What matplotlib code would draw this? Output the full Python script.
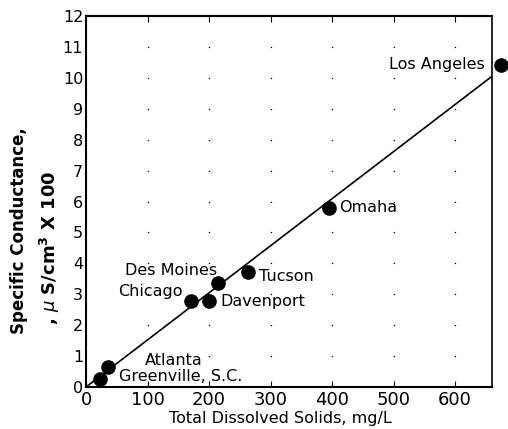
import matplotlib
matplotlib.use("Agg")
import matplotlib.pyplot as plt
import numpy as np

# Data
cities = ["Los Angeles", "Omaha", "Tucson", "Davenport", "Des Moines",
          "Chicago", "Atlanta", "Greenville, S.C."]
tds = [675, 395, 263, 200, 215, 170, 36, 23]
cond = [10.42, 5.8, 3.72, 2.78, 3.37, 2.78, 0.65, 0.27]
fit_x = [0, 660]
fit_y = [0, 10.05]
xticks = [0, 100, 200, 300, 400, 500, 600]
yticks = list(range(0, 13))

# label placement (offset in pixels, ha)
label_layout = {
    "Los Angeles": ((-16, 0), "right"),
    "Omaha": ((10, 0), "left"),
    "Tucson": ((11, -5), "left"),
    "Davenport": ((11, 0), "left"),
    "Des Moines": ((-1, 12), "right"),
    "Chicago": ((-8, 10), "right"),
    "Atlanta": ((37, 6), "left"),
    "Greenville, S.C.": ((19, 2), "left"),
}

plt.rcParams['font.family'] = ['DejaVu Sans']
fig = plt.figure(figsize=(5.08, 4.29), dpi=100)
ax = fig.add_axes([86/508, 1-387/429, (492-86)/508, (387-16)/429])
ax.set_xlim(0, 660)
ax.set_ylim(0, 12)

# dotted grid
gx, gy = np.meshgrid(xticks[1:], yticks[1:-1])
ax.scatter(gx.ravel(), gy.ravel(), s=1.0, color='black', linewidths=0, zorder=1)

ax.plot(fit_x, fit_y, color='black', lw=1.2, zorder=2)
ax.plot(tds, cond, 'o', color='black', ms=9.5, clip_on=False, zorder=3)

for c, x, y in zip(cities, tds, cond):
    (dx, dy), ha = label_layout[c]
    ax.annotate(c, (x, y), xytext=(dx*0.72, dy*0.72), textcoords='offset points',
                ha=ha, va='center', fontsize=11.5, annotation_clip=False)

ax.set_xticks(xticks)
ax.set_yticks(yticks)
ax.tick_params(axis='x', direction='in', length=4, top=True, labelsize=13, pad=3)
ax.tick_params(axis='y', direction='in', length=0, labelsize=11.5, pad=2)
for s in ax.spines.values():
    s.set_linewidth(1.5)
ax.spines['right'].set_linewidth(1.2)

fig.text(280/508, 1-418/429, "Total Dissolved Solids, mg/L", ha='center', va='center',
         fontsize=11.5)
fig.text(19/508, 1-231/429, "Specific Conductance,", rotation=90, ha='center', va='center',
         fontsize=12, fontweight='bold')
fig.text(50/508, 1-248/429, r", $\mu$ S/cm$^{\mathbf{3}}$ X 100", rotation=90, ha='center',
         va='center', fontsize=13, fontweight='bold')

fig.savefig("out.png", dpi=100)
